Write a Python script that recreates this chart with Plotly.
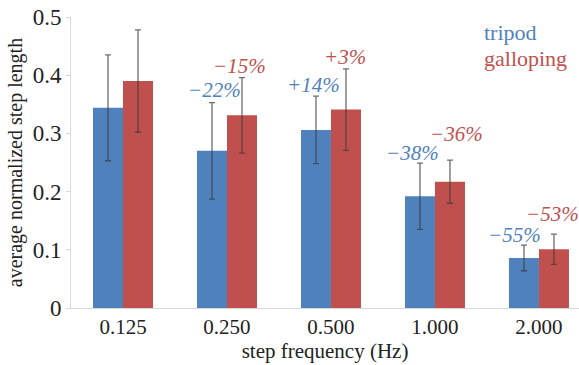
import plotly.graph_objects as go

categories = ["0.125", "0.250", "0.500", "1.000", "2.000"]
tripod = [0.344, 0.270, 0.306, 0.192, 0.086]
tripod_err = [0.091, 0.083, 0.058, 0.057, 0.022]
galloping = [0.390, 0.331, 0.341, 0.217, 0.101]
galloping_err = [0.088, 0.065, 0.070, 0.037, 0.026]
tripod_pct = ["", "\u221222%", "+14%", "\u221238%", "\u221255%"]
galloping_pct = ["", "\u221215%", "+3%", "\u221236%", "\u221253%"]
y_ticks = [0, 0.1, 0.2, 0.3, 0.4, 0.5]
y_tick_labels = ["0", "0.1", "0.2", "0.3", "0.4", "0.5"]

BLUE = "#4f81bd"
RED = "#c0504d"
FONT = "Liberation Serif, Times New Roman, serif"

# label offsets (pixels) relative to category centre / error-bar top
blue_dx = [0, -12, -17, -22, -24]
blue_dy = [0, 13, 11, 10, 10]
red_dx = [0, 13, 14, 22, 14]
red_dy = [0, 12, 12, 26, 20]

fig = go.Figure()
err_style = dict(type="data", color="rgba(60,60,60,0.75)", thickness=1.3, width=3)
fig.add_trace(go.Bar(x=categories, y=tripod, name="tripod", marker_color=BLUE,
                     marker_line_width=0,
                     error_y=dict(array=tripod_err, **err_style)))
fig.add_trace(go.Bar(x=categories, y=galloping, name="galloping", marker_color=RED,
                     marker_line_width=0,
                     error_y=dict(array=galloping_err, **err_style)))

annotations = []
for i in range(len(categories)):
    if tripod_pct[i]:
        annotations.append(dict(x=i, y=tripod[i] + tripod_err[i], xref="x", yref="y",
                                text="<i>" + tripod_pct[i] + "</i>", showarrow=False,
                                xshift=blue_dx[i], yshift=blue_dy[i],
                                font=dict(family=FONT, size=21, color=BLUE)))
    if galloping_pct[i]:
        annotations.append(dict(x=i, y=galloping[i] + galloping_err[i], xref="x", yref="y",
                                text="<i>" + galloping_pct[i] + "</i>", showarrow=False,
                                xshift=red_dx[i], yshift=red_dy[i],
                                font=dict(family=FONT, size=21, color=RED)))

annotations.append(dict(x=0.81, y=0.948, xref="paper", yref="paper", text="tripod",
                        showarrow=False, xanchor="left", yanchor="middle",
                        font=dict(family=FONT, size=22, color=BLUE)))
annotations.append(dict(x=0.81, y=0.858, xref="paper", yref="paper", text="galloping",
                        showarrow=False, xanchor="left", yanchor="middle",
                        font=dict(family=FONT, size=22, color=RED)))

fig.update_layout(
    width=579, height=365,
    margin=dict(l=71, r=0, t=17, b=57),
    paper_bgcolor="white", plot_bgcolor="white",
    barmode="group", bargap=0.423, bargroupgap=0,
    showlegend=False,
    font=dict(family=FONT, size=20, color="#222"),
    annotations=annotations,
    xaxis=dict(range=[-0.5, 4.385], showgrid=False, showline=True, linecolor="#d9d9d9",
               linewidth=1, ticks="", tickfont=dict(family=FONT, size=21),
               title=dict(text="step frequency (Hz)", font=dict(family=FONT, size=21),
                          standoff=2)),
    yaxis=dict(range=[0, 0.5], tickvals=y_ticks, ticktext=y_tick_labels, showgrid=False,
               showline=True, linecolor="#d9d9d9", linewidth=1, ticks="outside",
               ticklen=4, tickcolor="#d9d9d9", tickfont=dict(family=FONT, size=23),
               zeroline=False,
               title=dict(text="average normalized step length",
                          font=dict(family=FONT, size=20), standoff=4)),
)

fig.write_html("out.html")
